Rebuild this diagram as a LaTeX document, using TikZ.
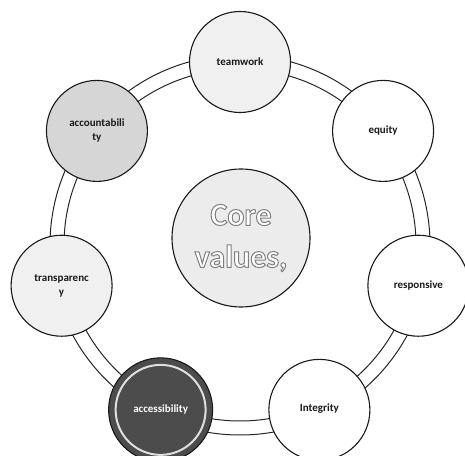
\documentclass[tikz,border=0pt]{standalone}
\usepackage{fontspec}
\setmainfont{Carlito}
\newcommand{\strokedtext}[1]{\special{pdf:literal direct 2 Tr 1.0 w 0.5 G}#1\special{pdf:literal direct 0 Tr}}
\begin{document}
\begin{tikzpicture}[x=1pt,y=1pt,
  valuenode/.style={circle, draw=black!90, line width=1.1pt, minimum size=101pt, inner sep=0pt,
    font=\bfseries\fontsize{11}{14}\selectfont, align=center, text=black!90},
  ringline/.style={draw=black!85, line width=1pt}]
\useasboundingbox (0,0) rectangle (465,455);
\clip (0,0) rectangle (465,455);
\coordinate (c) at (240,210);
% ring band
\draw[ringline] (c) circle (176);
\draw[ringline] (c) circle (190);
% outer nodes
\node[valuenode, fill=gray!12] (teamwork) at ([shift={(90:183)}]c) {teamwork};
\node[valuenode, fill=white] (equity) at ([shift={(38.57:183)}]c) {equity};
\node[valuenode, fill=white] (responsive) at ([shift={(-12.86:183)}]c) {responsive};
\node[valuenode, fill=white] (integrity) at ([shift={(-64.29:183)}]c) {\raisebox{4pt}{Integrity}};
\node[valuenode, fill=black!70, text=white, minimum size=104pt] (accessibility) at ([shift={(-115.71:183)}]c) {accessibility};
\draw[white!75!gray, line width=2pt] (accessibility.center) circle (45);
\node[valuenode, fill=gray!12] (transparency) at ([shift={(-167.14:183)}]c) {transparenc\\y};
\node[valuenode, fill=gray!32] (accountability) at ([shift={(141.43:183)}]c) {accountabili\\ty};
% centre
\node[circle, draw=black!90, line width=1.1pt, fill=gray!15, minimum size=138pt, inner sep=0pt] (core) at (241,217) {};
\node[text=white, font=\bfseries\fontsize{32}{42}\selectfont, align=center] (coretext) at (core.center) {\strokedtext{Core}\\\strokedtext{values,}};
\end{tikzpicture}
\end{document}
